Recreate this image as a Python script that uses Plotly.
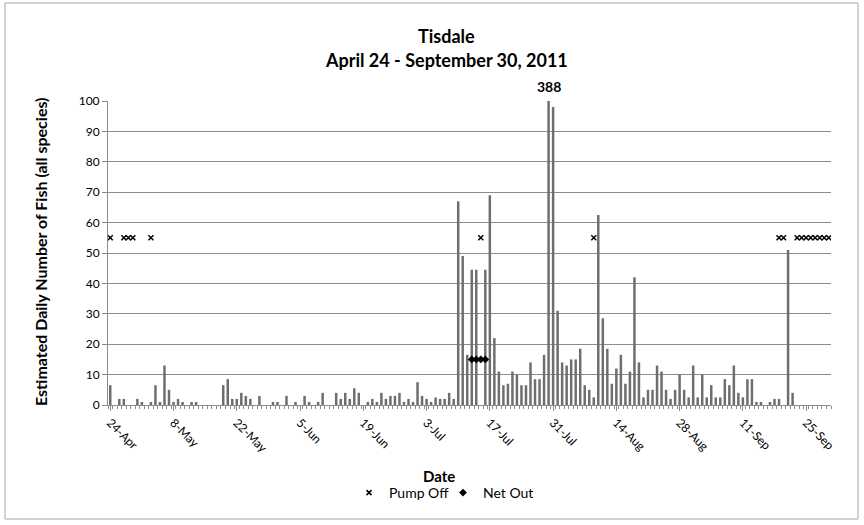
import plotly.graph_objects as go

# ---------------- data ----------------
days = list(range(160))  # day index from 24-Apr (0) to 30-Sep (159)
fish_counts = [
    6.5, 0, 2, 2, 0, 0, 2, 1, 0, 1,          # 0-9
    6.5, 1, 13, 5, 1, 2, 1, 0, 1, 1,         # 10-19
    0, 0, 0, 0, 0, 6.5, 8.5, 2, 2, 4,        # 20-29
    3, 2, 0, 3, 0, 0, 1, 1, 0, 3,            # 30-39
    0, 1, 0, 3, 1, 0, 1, 4, 0, 0,            # 40-49
    4, 2, 4, 2, 5.5, 4, 0, 1, 2, 1,          # 50-59
    4, 2, 3, 3, 4, 1, 2, 1, 7.5, 3,          # 60-69
    2, 1, 2.5, 2, 2, 4, 2, 67, 49, 16.5,     # 70-79
    44.5, 44.5, 0, 44.5, 69, 22, 11, 6.5, 7, 11,   # 80-89
    10, 6.5, 6.5, 14, 8.5, 8.5, 16.5, 388, 98, 31,  # 90-99
    14, 13, 15, 15, 18.5, 6.5, 5, 2.5, 62.5, 28.5,  # 100-109
    18.5, 7, 12, 16.5, 7, 11, 42, 14, 2.5, 5,       # 110-119
    5, 13, 11, 5, 2, 5, 10, 5, 2.5, 13,             # 120-129
    2.5, 10, 2.5, 6.5, 2.5, 2.5, 8.5, 6.5, 13, 4,   # 130-139
    2.5, 8.5, 8.5, 1, 1, 0, 1, 2, 2, 0,             # 140-149
    51, 4, 0, 0, 0, 0, 0, 0, 0, 0,                  # 150-159
]
pump_off_days = [0, 3, 4, 5, 9, 82, 107, 148, 149, 152, 153, 154, 155, 156, 157, 158, 159]
pump_off_level = 55
net_out_days = [80, 81, 82, 83]
net_out_level = 15

tick_days = [0, 14, 28, 42, 56, 70, 84, 98, 112, 126, 140, 154]
tick_labels = ["24-Apr", "8-May", "22-May", "5-Jun", "19-Jun", "3-Jul",
               "17-Jul", "31-Jul", "14-Aug", "28-Aug", "11-Sep", "25-Sep"]

peak_day = 97
peak_label = "388"

title_line1 = "Tisdale"
title_line2 = "April 24 - September 30, 2011"
x_title = "Date"
y_title = "Estimated Daily Number of Fish (all species)"

# ---------------- figure ----------------
FONT = "Lato"
GRID = "#8c8c8c"

fig = go.Figure()
fig.add_trace(go.Bar(
    x=days, y=fish_counts, marker=dict(color="#6e6e6e", line=dict(width=0)),
    showlegend=False, hoverinfo="x+y"))
fig.add_trace(go.Scatter(
    x=pump_off_days, y=[pump_off_level] * len(pump_off_days), mode="markers",
    name="Pump Off", legend="legend",
    marker=dict(symbol="x-thin", size=5, line=dict(color="black", width=1.5), color="black")))
fig.add_trace(go.Scatter(
    x=net_out_days, y=[net_out_level] * len(net_out_days), mode="markers",
    name="Net Out", legend="legend2",
    marker=dict(symbol="diamond", size=6, color="black")))

W, H = 864, 525
PX_L, PX_R, PX_T, PX_B = 108, 831, 101, 405   # plot area in window pixels
L, R, T, B = PX_L, W - PX_R, PX_T, H - PX_B
pw, ph = PX_R - PX_L, PX_B - PX_T

def px_x(px):
    return (px - PX_L) / pw

def px_y(py):
    return (PX_B - py) / ph

legend_common = dict(orientation="h", xanchor="left", y=px_y(493), yanchor="middle",
                     font=dict(family=FONT, size=14, color="black"),
                     itemwidth=30, bgcolor="rgba(0,0,0,0)")

fig.update_layout(
    width=W, height=H,
    margin=dict(l=L, r=R, t=T, b=B, pad=0, autoexpand=False),
    paper_bgcolor="white", plot_bgcolor="white",
    font=dict(family=FONT, size=12, color="black"),
    bargap=0.45,
    showlegend=True,
    legend=dict(x=px_x(349), **legend_common),
    legend2=dict(x=px_x(443), **legend_common),
    xaxis=dict(
        range=[-0.5, 159.5], tickmode="array", tickvals=tick_days, ticktext=tick_labels,
        tickangle=45, ticks="outside", ticklen=5, tickcolor=GRID, automargin=False,
        showline=True, linecolor=GRID, linewidth=1, showgrid=False, zeroline=False,
        tickfont=dict(family=FONT, size=12, color="black"),
        minor=dict(ticks="outside", ticklen=3, tickcolor=GRID, tick0=-0.5, dtick=1, showgrid=False),
    ),
    yaxis=dict(
        range=[0, 100], tickmode="linear", tick0=0, dtick=10,
        ticks="outside", ticklen=5, tickcolor=GRID, automargin=False,
        showline=True, linecolor=GRID, linewidth=1,
        showgrid=True, gridcolor=GRID, gridwidth=1, zeroline=False,
        tickfont=dict(family=FONT, size=12, color="black"),
    ),
    annotations=[
        dict(text="<b>%s</b>" % title_line1, xref="paper", yref="paper",
             x=px_x(446), y=px_y(36), showarrow=False, xanchor="center", yanchor="middle",
             font=dict(family=FONT, size=18)),
        dict(text="<b>%s</b>" % title_line2, xref="paper", yref="paper",
             x=px_x(446), y=px_y(60), showarrow=False, xanchor="center", yanchor="middle",
             font=dict(family=FONT, size=18)),
        dict(text="<b>%s</b>" % peak_label, xref="x", yref="y",
             x=peak_day, y=100, yshift=4, showarrow=False, xanchor="center", yanchor="bottom",
             font=dict(family=FONT, size=14)),
        dict(text="<b>%s</b>" % x_title, xref="paper", yref="paper",
             x=px_x(439), y=px_y(476), showarrow=False, xanchor="center", yanchor="middle",
             font=dict(family=FONT, size=15)),
        dict(text="<b>%s</b>" % y_title, xref="paper", yref="paper", textangle=-90,
             x=px_x(40), y=px_y(252), showarrow=False, xanchor="center", yanchor="middle",
             font=dict(family=FONT, size=16)),
    ],
    shapes=[
        dict(type="rect", xref="paper", yref="paper",
             x0=px_x(5), x1=px_x(858), y0=px_y(519), y1=px_y(3),
             line=dict(color="#a6a6a6", width=1), fillcolor="rgba(0,0,0,0)", layer="below"),
    ],
)

fig.write_html("out.html", config={"displayModeBar": False},
               post_script="document.body.style.margin='0';")
